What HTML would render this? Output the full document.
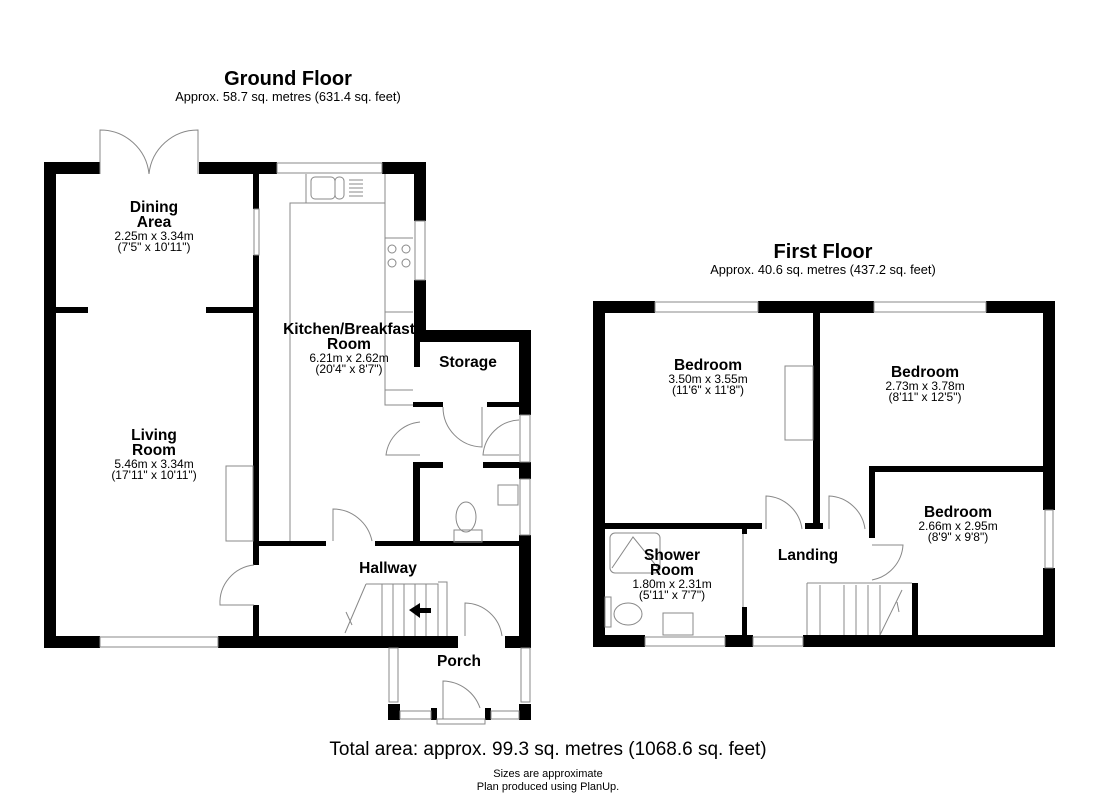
<!DOCTYPE html>
<html><head><meta charset="utf-8"><style>
body{margin:0;background:#fff}
svg{display:block}
text{font-family:"Liberation Sans",Arial,sans-serif;text-anchor:middle;fill:#000}
.t{font-weight:bold;font-size:15.5px}
.d{font-size:12px}
.w{fill:#000}
.l{fill:none;stroke:#888;stroke-width:1}
.win{fill:#fff;stroke:#888;stroke-width:1}
</style></head><body>
<svg width="1100" height="800" viewBox="0 0 1100 800">
<!-- titles -->
<text x="288" y="85" style="font-weight:bold;font-size:20px">Ground Floor</text>
<text x="288" y="101" style="font-size:12.8px">Approx. 58.7 sq. metres (631.4 sq. feet)</text>
<text x="823" y="258" style="font-weight:bold;font-size:20px">First Floor</text>
<text x="823" y="274" style="font-size:12.8px">Approx. 40.6 sq. metres (437.2 sq. feet)</text>
<text x="548" y="755" style="font-size:19px">Total area: approx. 99.3 sq. metres (1068.6 sq. feet)</text>
<text x="548" y="777" style="font-size:11px">Sizes are approximate</text>
<text x="548" y="790" style="font-size:11px">Plan produced using PlanUp.</text>

<!-- GROUND FLOOR walls -->
<rect class="w" x="44" y="162" width="12" height="486"/>
<rect class="w" x="44" y="162" width="56" height="12"/>
<rect class="w" x="199" y="162" width="78" height="12"/>
<rect class="w" x="382" y="162" width="44" height="12"/>
<rect class="w" x="414" y="162" width="12" height="59"/>
<rect class="w" x="414" y="280" width="12" height="62"/>
<rect class="w" x="414" y="330" width="117" height="12"/>
<rect class="w" x="519" y="330" width="12" height="85"/>
<rect class="w" x="519" y="462" width="12" height="17"/>
<rect class="w" x="519" y="535" width="12" height="113"/>
<rect class="w" x="414" y="342" width="6" height="25"/>
<rect class="w" x="413" y="402" width="7" height="5"/>
<rect class="w" x="420" y="402" width="23" height="5"/>
<rect class="w" x="487" y="402" width="32" height="5"/>
<rect class="w" x="413" y="462" width="7" height="84"/>
<rect class="w" x="420" y="462" width="23" height="6"/>
<rect class="w" x="483" y="462" width="36" height="6"/>
<rect class="w" x="253" y="174" width="6" height="35"/>
<rect class="w" x="253" y="255" width="6" height="310"/>
<rect class="w" x="253" y="605" width="6" height="43"/>
<rect class="w" x="56" y="307" width="32" height="6"/>
<rect class="w" x="206" y="307" width="47" height="6"/>
<rect class="w" x="259" y="541" width="67" height="5"/>
<rect class="w" x="375" y="541" width="155" height="5"/>
<rect class="w" x="44" y="636" width="56" height="12"/>
<rect class="w" x="218" y="636" width="240" height="12"/>
<rect class="w" x="505" y="636" width="26" height="12"/>
<!-- porch -->
<rect class="w" x="388" y="704" width="12" height="16"/>
<rect class="w" x="519" y="704" width="12" height="16"/>
<rect class="w" x="431" y="708" width="6" height="12"/>
<rect class="w" x="485" y="708" width="6" height="12"/>
<rect class="win" x="389" y="648" width="9" height="54"/>
<rect class="win" x="521" y="648" width="9" height="54"/>
<rect class="win" x="400" y="711" width="31" height="8"/>
<rect class="win" x="491" y="711" width="28" height="8"/>
<rect class="win" x="437" y="719" width="48" height="5"/>
<!-- windows -->
<rect class="win" x="277" y="163" width="105" height="10"/>
<rect class="win" x="415" y="221" width="10" height="59"/>
<rect class="win" x="254" y="209" width="5" height="46"/>
<rect class="win" x="100" y="637" width="118" height="10"/>
<rect class="win" x="520" y="479" width="10" height="56"/>
<rect class="win" x="520" y="415" width="10" height="47"/>
<!-- doors -->
<path class="l" d="M100 174 V130 A49 49 0 0 1 149 174 M198 174 V130 A49 49 0 0 0 149 174"/>
<path class="l" d="M333 541 V509 A40 40 0 0 1 372 541"/>
<path class="l" d="M254 565 A38 38 0 0 0 220 605 H254"/>
<path class="l" d="M465 636 V603 A38 38 0 0 1 502 636"/>
<path class="l" d="M443 719 V681 A40 40 0 0 1 480 708"/>
<path class="l" d="M443 407 A40 40 0 0 0 482 447 V407"/>
<path class="l" d="M420 422 A38 38 0 0 0 386 455 H420"/>
<path class="l" d="M519 420 A38 38 0 0 0 483 455 H519"/>
<!-- kitchen units -->
<path class="l" d="M290 541 V203 H385 V312 H413 M306 174 V203 M385 174 V203 M385 238 H413 M385 390 H413 M385 312 V405 H413"/>
<rect class="l" x="311" y="177" width="24" height="22" rx="4"/>
<rect class="l" x="335" y="177" width="9" height="22" rx="4"/>
<path class="l" d="M349 180 H363 M349 184 H363 M349 188 H363 M349 192 H363 M349 196 H363"/>
<circle class="l" cx="392" cy="249" r="4"/><circle class="l" cx="406" cy="249" r="4"/>
<circle class="l" cx="392" cy="263" r="4"/><circle class="l" cx="406" cy="263" r="4"/>
<rect class="l" x="226" y="466" width="27" height="75"/>
<!-- WC -->
<ellipse class="l" cx="466" cy="517" rx="10" ry="15"/>
<rect class="l" x="454" y="530" width="28" height="12"/>
<rect class="l" x="498" y="485" width="20" height="20"/>
<!-- stairs -->
<path class="l" d="M366 584 H438 V636 M382 584 V636 M393 584 V636 M404 584 V636 M415 584 V636 M426 584 V636 M366 584 L345 633 M346 612 L352 625 M438 582 H447 V636"/>
<path d="M409 610 L420 603 V608 H431 V613 H420 V618 Z" fill="#000"/>

<!-- labels ground -->
<text class="t" x="154" y="212">Dining</text>
<text class="t" x="154" y="227">Area</text>
<text class="d" x="154" y="240">2.25m x 3.34m</text>
<text class="d" x="154" y="251">(7'5" x 10'11")</text>
<text class="t" x="154" y="440">Living</text>
<text class="t" x="154" y="455">Room</text>
<text class="d" x="154" y="468">5.46m x 3.34m</text>
<text class="d" x="154" y="479">(17'11" x 10'11")</text>
<text class="t" x="349" y="334">Kitchen/Breakfast</text>
<text class="t" x="349" y="349">Room</text>
<text class="d" x="349" y="362">6.21m x 2.62m</text>
<text class="d" x="349" y="373">(20'4" x 8'7")</text>
<text class="t" x="468" y="367">Storage</text>
<text class="t" x="388" y="573">Hallway</text>
<text class="t" x="459" y="666">Porch</text>

<!-- FIRST FLOOR -->
<rect class="w" x="593" y="301" width="12" height="346"/>
<rect class="w" x="593" y="301" width="62" height="12"/>
<rect class="w" x="758" y="301" width="116" height="12"/>
<rect class="w" x="986" y="301" width="69" height="12"/>
<rect class="w" x="1043" y="301" width="12" height="209"/>
<rect class="w" x="1043" y="568" width="12" height="79"/>
<rect class="w" x="593" y="635" width="52" height="12"/>
<rect class="w" x="725" y="635" width="28" height="12"/>
<rect class="w" x="803" y="635" width="252" height="12"/>
<rect class="w" x="813" y="313" width="7" height="216"/>
<rect class="w" x="805" y="523" width="18" height="6"/>
<rect class="w" x="605" y="523" width="157" height="6"/>
<rect class="w" x="869" y="466" width="174" height="6"/>
<rect class="w" x="869" y="466" width="6" height="72"/>
<rect class="w" x="742" y="523" width="5" height="11"/>
<rect class="w" x="742" y="607" width="5" height="40"/>
<rect class="w" x="912" y="583" width="6" height="52"/>
<rect class="win" x="655" y="302" width="103" height="10"/>
<rect class="win" x="874" y="302" width="112" height="10"/>
<rect class="win" x="1045" y="510" width="8" height="58"/>
<rect class="win" x="645" y="637" width="80" height="9"/>
<rect class="win" x="753" y="637" width="50" height="9"/>
<path class="l" d="M743 534 V607"/>
<path class="l" d="M766 529 V496 A38 38 0 0 1 802 529"/>
<path class="l" d="M829 529 V496 A38 38 0 0 1 865 529"/>
<path class="l" d="M872 545 H903 A38 38 0 0 1 872 580"/>
<path class="l" d="M807 583 V635 M807 583 H912 M820 585 V635 M844 585 V635 M856 585 V635 M868 585 V635 M880 585 V635 M902 590 L880 635 M897 602 L899 612"/>
<rect class="l" x="785" y="366" width="28" height="74"/>
<rect class="l" x="610" y="533" width="50" height="40" rx="5"/>
<path class="l" d="M612 568 L633 537 L658 568"/>
<rect class="l" x="605" y="597" width="6" height="30"/>
<ellipse class="l" cx="628" cy="614" rx="14" ry="11"/>
<rect class="l" x="663" y="613" width="30" height="22"/>
<!-- labels first -->
<text class="t" x="708" y="370">Bedroom</text>
<text class="d" x="708" y="383">3.50m x 3.55m</text>
<text class="d" x="708" y="394">(11'6" x 11'8")</text>
<text class="t" x="925" y="377">Bedroom</text>
<text class="d" x="925" y="390">2.73m x 3.78m</text>
<text class="d" x="925" y="401">(8'11" x 12'5")</text>
<text class="t" x="958" y="517">Bedroom</text>
<text class="d" x="958" y="530">2.66m x 2.95m</text>
<text class="d" x="958" y="541">(8'9" x 9'8")</text>
<text class="t" x="808" y="560">Landing</text>
<text class="t" x="672" y="560">Shower</text>
<text class="t" x="672" y="575">Room</text>
<text class="d" x="672" y="588">1.80m x 2.31m</text>
<text class="d" x="672" y="599">(5'11" x 7'7")</text>
</svg>
</body></html>
